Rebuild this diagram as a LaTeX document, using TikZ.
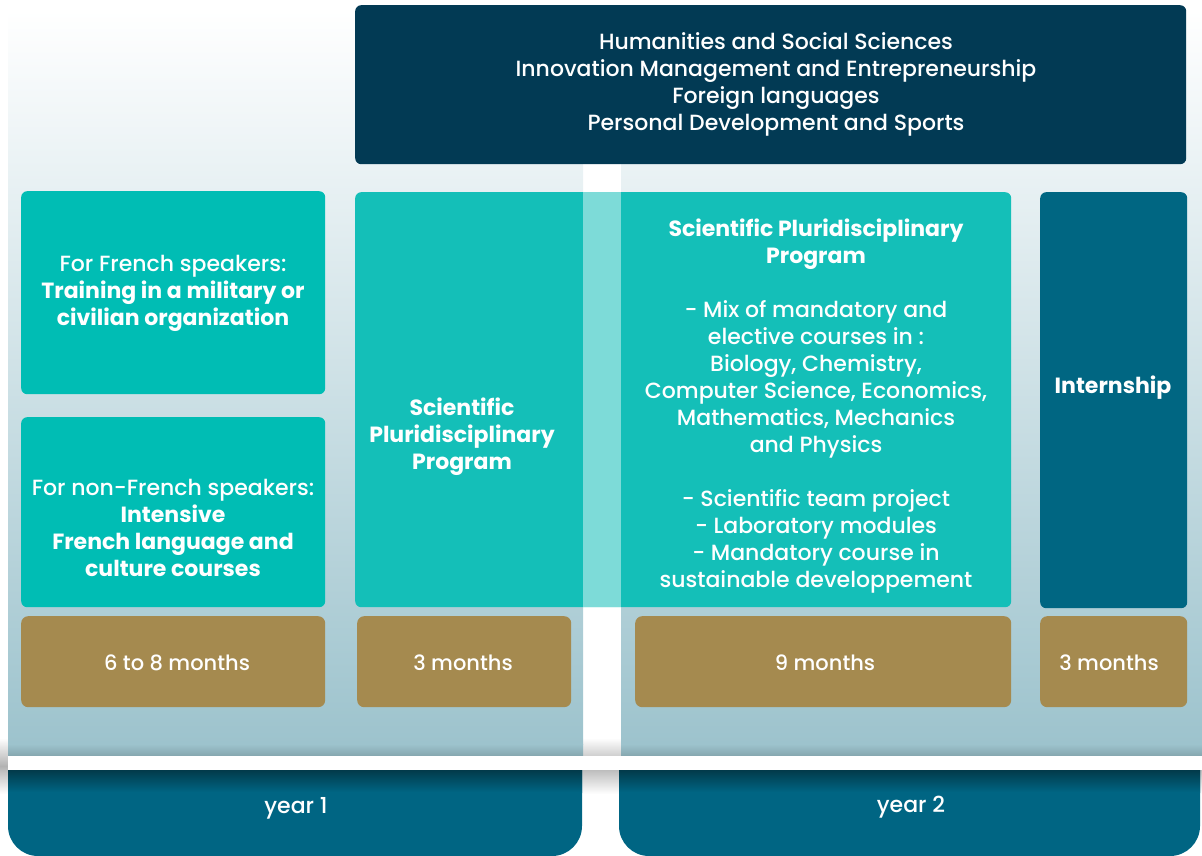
\documentclass[tikz,border=0pt]{standalone}
\usepackage{fontspec}
\setmainfont{Poppins}[UprightFont={* Medium}, BoldFont={* Bold}]
\usepackage{tikz}
\usetikzlibrary{positioning}
\definecolor{navy}{RGB}{2,58,84}
\definecolor{tl}{RGB}{0,189,180}
\definecolor{tlp}{RGB}{20,191,184}
\definecolor{ptl}{RGB}{0,102,130}
\definecolor{gd}{RGB}{165,138,79}
\definecolor{pb}{RGB}{157,195,205}
\definecolor{tab}{RGB}{0,101,131}
\definecolor{tabd}{RGB}{2,58,74}

\begin{document}
\begin{tikzpicture}[x=1pt, y=-1pt,
  bx/.style={rounded corners=6pt, inner sep=0pt, anchor=north west},
  txt/.style={text=white, align=center, inner sep=0pt, font=\fontsize{22}{27}\selectfont}]
\useasboundingbox (0,0) rectangle (1202,856);
% shadow under the panels
\shade[top color=white, bottom color=black!30] (0,738) rectangle (1202,766);
\shade[top color=black!30, bottom color=white] (0,766) rectangle (1202,794);
% year panels
\shade[top color=white, bottom color=pb] (8,10) rectangle (583,744);
\shade[top color=white, bottom color=pb] (621,10) rectangle (1202,744);
\shade[top color=pb, bottom color=pb!85!black] (8,744) rectangle (583,756);
\shade[top color=pb, bottom color=pb!85!black] (621,744) rectangle (1202,756);
\fill[white] (8,756) rectangle (1202,770);
% year tabs
\foreach \a/\b in {8/582, 619/1200}{
\begin{scope}
\clip (\a,770) rectangle (\b,856);
\fill[tab, rounded corners=30pt] (\a,730) rectangle (\b,856);
\shade[top color=tabd, bottom color=tab] (\a,770) rectangle (\b,792);
\end{scope}
}
\node[txt] (yr1) at (296,808) {year 1};
\node[txt] (yr2) at (911,807) {year 2};

% top box
\node[bx, fill=navy, minimum width=831, minimum height=159] (hum) at (355,5) {};
\node[txt] (humt) at (776,84) {Humanities and Social Sciences\\Innovation Management and Entrepreneurship\\Foreign languages\\Personal Development and Sports};

% year 1 boxes
\node[bx, fill=tl, minimum width=304, minimum height=203] (fr) at (21,191) {};
\node[txt] (frt) at (173,293) {For French speakers:\\\textbf{Training in a military or}\\\textbf{civilian organization}};
\node[bx, fill=tl, minimum width=304, minimum height=190] (nfr) at (21,417) {};
\node[txt] (nfrt) at (173,528) {For non-French speakers:\\\textbf{Intensive}\\\textbf{French language and}\\\textbf{culture courses}};

% programme box over both years
\node[bx, fill=tlp, minimum width=656, minimum height=415] (prog) at (355,192) {};
\fill[white, opacity=0.45] (583,192) rectangle (621,607);
\node[txt, font=\fontsize{22}{27}\selectfont\bfseries] (p1) at (462,437) {Scientific\\Pluridisciplinary\\Program};
\node[txt] (p2) at (816,406) {\textbf{Scientific Pluridisciplinary}\\\textbf{Program}\\[27pt]
- Mix of mandatory and\\elective courses in :\\Biology, Chemistry,\\Computer Science, Economics,\\Mathematics, Mechanics\\and Physics\\[27pt]
- Scientific team project\\- Laboratory modules\\- Mandatory course in\\sustainable developpement};

% internship
\node[bx, fill=ptl, minimum width=147, minimum height=416] (intern) at (1040,192) {};
\node[txt, font=\fontsize{22}{27}\selectfont\bfseries] (it) at (1113,388) {Internship};

% durations
\foreach \x/\w/\c/\t in {21/304/177/6 to 8 months, 357/214/463/3 months, 635/376/825/9 months, 1040/147/1109/3 months}{
\node[bx, fill=gd, rounded corners=7pt, minimum width=\w, minimum height=91] at (\x,616) {};
\node[txt, font=\fontsize{21}{27}\selectfont] at (\c,663) {\t};
}
\end{tikzpicture}
\end{document}
